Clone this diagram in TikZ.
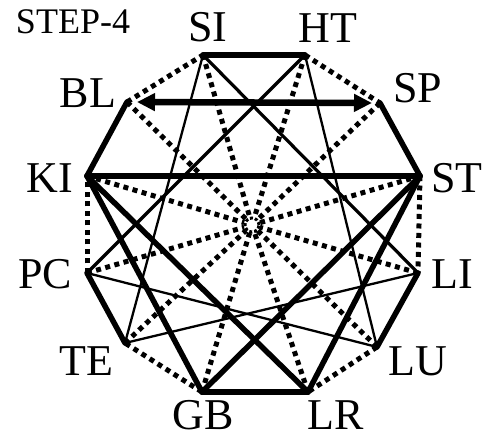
\documentclass[tikz,border=0pt]{standalone}
\usepackage{fontspec}
\setmainfont{Liberation Serif}
\usetikzlibrary{arrows.meta}

\begin{document}
\begin{tikzpicture}[x=1pt,y=-1pt,>={Triangle[length=18pt,width=17pt]},
  heavy/.style={line width=5.5pt,line cap=round,line join=round},
  mid/.style={line width=3.2pt,line cap=round},
  fine/.style={line width=2.3pt,line cap=round},
  dotty/.style={line width=5pt,dash pattern=on 5pt off 4.5pt},
  lab/.style={inner sep=0pt,font=\fontsize{44}{44}\selectfont}]
  \useasboundingbox (0,0) rectangle (491,438);
  % corners of the ring
  \coordinate (SI) at (203,55);  \coordinate (HT) at (305,55);
  \coordinate (SP) at (380,103); \coordinate (ST) at (420,176);
  \coordinate (LI) at (418,273); \coordinate (LU) at (377,347);
  \coordinate (LR) at (308,392); \coordinate (GB) at (202,392);
  \coordinate (TE) at (125,343); \coordinate (PC) at (87,273);
  \coordinate (KI) at (87,176);  \coordinate (BL) at (127,102);
  \node[circle,minimum size=16pt,inner sep=0pt] (O) at (252,225) {};
  \draw[line width=3pt,dash pattern=on 3pt off 2pt] (O) circle (7pt);
  % labels
  \node[inner sep=0pt,font=\fontsize{36}{36}\selectfont] (step) at (73,22) {STEP-4};
  \node[lab] (tSI) at (208,27) {SI};  \node[lab] (tHT) at (328,28) {HT};
  \node[lab] (tSP) at (418,88) {SP};  \node[lab] (tST) at (457,178) {ST};
  \node[lab] (tLI) at (452,274) {LI}; \node[lab] (tLU) at (418,361) {LU};
  \node[lab] (tLR) at (336,415) {LR}; \node[lab] (tGB) at (203,415) {GB};
  \node[lab] (tTE) at (86,361) {TE};  \node[lab] (tPC) at (45,274) {PC};
  \node[lab] (tKI) at (50,178) {KI};  \node[lab] (tBL) at (88,93) {BL};
  % spokes
  \foreach \v in {SI,HT,SP,ST,LI,LU,LR,GB,TE,PC,KI,BL}\draw[dotty](\v)--(O);
  % ring
  \foreach \a/\b in {HT/SP,ST/LI,LU/LR,GB/TE,PC/KI,BL/SI}\draw[dotty](\a)--(\b);
  \foreach \a/\b in {SI/HT,SP/ST,LI/LU,LR/GB,TE/PC,KI/BL}\draw[heavy](\a)--(\b);
  % chords
  \foreach \a/\b in {SI/TE,HT/LU,PC/LU,TE/LI}\draw[fine](\a)--(\b);
  \foreach \a/\b in {SI/LI,HT/PC}\draw[mid](\a)--(\b);
  \foreach \a/\b in {KI/ST,KI/GB,KI/LR,ST/GB,ST/LR}\draw[heavy](\a)--(\b);
  \draw[<->,line width=6.5pt,shorten <=10pt,shorten >=8pt] (BL)--(SP);
\end{tikzpicture}
\end{document}
